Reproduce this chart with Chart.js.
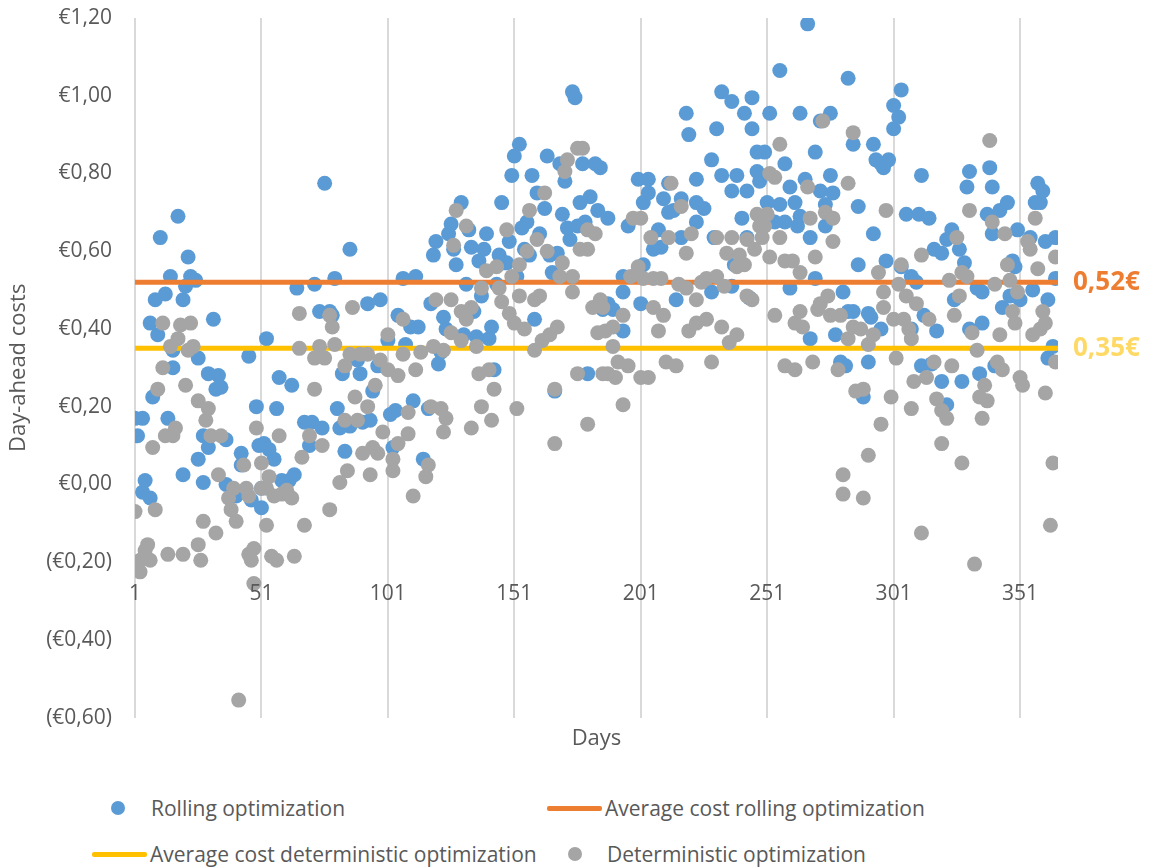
<!DOCTYPE html>
<html>
<head>
<meta charset="utf-8">
<title>Day-ahead costs</title>
<script src="https://cdn.jsdelivr.net/npm/chart.js@4.4.1/dist/chart.umd.min.js"></script>
<style>
  body { margin: 0; background: #fff; font-family: "Open Sans", sans-serif; }
  #wrap { position: relative; width: 1152px; height: 868px; }
  #costChart { position: absolute; left: 0; top: 0; }
  .legend-item { position: absolute; display: flex; align-items: center; height: 28px;
                 font-size: 21px; color: #595959; white-space: nowrap; }
  .dot { display: inline-block; width: 14px; height: 14px; border-radius: 50%; }
  .bar { display: inline-block; width: 55px; height: 5px; border-radius: 2px; }
</style>
</head>
<body>
<div id="wrap">
  <canvas id="costChart" width="1152" height="762"></canvas>
  <div class="legend-item" style="left:111px; top:794px"><span class="dot" style="background:#5B9BD5"></span><span style="margin-left:26px">Rolling optimization</span></div>
  <div class="legend-item" style="left:547px; top:794px"><span class="bar" style="background:#ED7D31"></span><span style="margin-left:3px">Average cost rolling optimization</span></div>
  <div class="legend-item" style="left:92px; top:840px"><span class="bar" style="background:#FFC000"></span><span style="margin-left:3px">Average cost deterministic optimization</span></div>
  <div class="legend-item" style="left:568px; top:840px"><span class="dot" style="background:#A5A5A5"></span><span style="margin-left:25px">Deterministic optimization</span></div>
</div>
<script>
// daily day-ahead cost, rolling optimization
const rollingDays = [
  1, 2, 4, 4, 5, 7, 7, 8, 9, 10, 11, 13, 14, 15, 16, 16, 18, 20, 20, 21,
  22, 23, 25, 26, 26, 28, 28, 30, 30, 32, 33, 34, 35, 37, 37, 41, 43, 43, 46, 47,
  49, 50, 51, 51, 52, 53, 54, 56, 57, 58, 59, 62, 63, 64, 65, 68, 70, 71, 72, 74,
  75, 76, 78, 79, 80, 81, 82, 83, 84, 86, 86, 89, 90, 91, 93, 94, 95, 97, 98, 101,
  102, 103, 104, 105, 107, 108, 110, 111, 112, 113, 115, 117, 118, 119, 120, 121, 122, 123, 124, 125,
  126, 127, 128, 130, 131, 132, 133, 134, 135, 136, 137, 138, 139, 140, 141, 142, 143, 144, 145, 146,
  147, 148, 149, 150, 151, 152, 153, 154, 155, 156, 157, 158, 159, 160, 161, 163, 164, 165, 166, 167,
  168, 169, 170, 171, 172, 173, 174, 175, 176, 177, 178, 179, 180, 181, 183, 184, 185, 186, 188, 188,
  190, 194, 194, 194, 196, 200, 201, 202, 202, 204, 204, 206, 208, 209, 210, 212, 212, 214, 215, 217,
  217, 219, 220, 223, 223, 223, 226, 229, 229, 230, 231, 233, 233, 237, 237, 237, 238, 239, 241, 242,
  243, 243, 244, 245, 245, 247, 247, 248, 250, 251, 252, 254, 256, 256, 258, 258, 260, 260, 262, 263,
  264, 264, 266, 267, 268, 268, 270, 270, 272, 272, 274, 274, 276, 276, 277, 278, 280, 281, 282, 283,
  283, 285, 285, 287, 287, 289, 291, 291, 292, 293, 293, 294, 296, 296, 297, 298, 299, 301, 301, 303,
  304, 304, 306, 308, 308, 310, 311, 312, 312, 313, 315, 316, 317, 318, 320, 320, 322, 322, 324, 325,
  327, 328, 329, 330, 331, 331, 334, 335, 336, 336, 338, 339, 340, 340, 341, 343, 344, 346, 347, 348,
  349, 350, 351, 355, 356, 357, 358, 359, 360, 361, 362, 362, 364, 365, 365
];
const rollingCosts = [
  0.17, 0.125, 0.17, -0.02, 0.01, -0.035, 0.415, 0.225, 0.475, 0.385, 0.635, 0.49, 0.17, 0.535, 0.345, 0.30, 0.69, 0.025, 0.475, 0.51,
  0.585, 0.535, 0.525, 0.325, 0.065, 0.125, 0.005, 0.285, 0.095, 0.425, 0.245, 0.28, 0.25, 0.115, 0.0, -0.03, 0.08, 0.05, 0.33, -0.04,
  0.20, 0.10, -0.01, -0.06, 0.105, 0.375, 0.09, 0.065, 0.195, 0.275, 0.01, 0.01, 0.255, 0.025, 0.505, 0.16, 0.10, 0.16, 0.515, 0.445,
  0.145, 0.775, 0.445, 0.435, 0.53, 0.195, 0.145, 0.285, 0.085, 0.15, 0.605, 0.32, 0.285, 0.16, 0.465, 0.165, 0.24, 0.305, 0.475, 0.37,
  0.18, 0.095, 0.19, 0.435, 0.53, 0.36, 0.405, 0.215, 0.535, 0.405, 0.065, 0.195, 0.465, 0.59, 0.625, 0.31, 0.34, 0.43, 0.40, 0.645,
  0.67, 0.605, 0.565, 0.725, 0.385, 0.515, 0.655, 0.61, 0.445, 0.38, 0.575, 0.485, 0.605, 0.645, 0.375, 0.405, 0.295, 0.515, 0.59, 0.725,
  0.57, 0.57, 0.625, 0.795, 0.845, 0.535, 0.875, 0.66, 0.605, 0.675, 0.59, 0.795, 0.425, 0.75, 0.645, 0.71, 0.845, 0.59, 0.545, 0.24,
  0.595, 0.825, 0.695, 0.78, 0.66, 0.63, 1.01, 0.995, 0.665, 0.725, 0.825, 0.675, 0.285, 0.74, 0.825, 0.705, 0.815, 0.45, 0.685, 0.465,
  0.45, 0.535, 0.495, 0.395, 0.665, 0.785, 0.465, 0.565, 0.725, 0.75, 0.785, 0.605, 0.655, 0.61, 0.735, 0.775, 0.70, 0.705, 0.475, 0.735,
  0.635, 0.955, 0.90, 0.675, 0.785, 0.725, 0.71, 0.835, 0.495, 0.635, 0.915, 1.01, 0.795, 0.985, 0.755, 0.51, 0.565, 0.795, 0.685, 0.955,
  0.755, 0.635, 0.48, 0.915, 0.995, 0.855, 0.805, 0.78, 0.855, 0.725, 0.955, 0.675, 0.72, 1.065, 0.675, 0.825, 0.505, 0.765, 0.725, 0.665,
  0.955, 0.69, 0.785, 1.185, 0.635, 0.375, 0.855, 0.53, 0.935, 0.755, 0.72, 0.665, 0.955, 0.795, 0.75, 0.385, 0.315, 0.495, 0.305, 0.445,
  1.045, 0.875, 0.445, 0.565, 0.715, 0.225, 0.44, 0.315, 0.43, 0.645, 0.875, 0.835, 0.825, 0.40, 0.815, 0.575, 0.835, 0.915, 0.975, 0.945,
  1.015, 0.56, 0.695, 0.535, 0.40, 0.52, 0.695, 0.795, 0.305, 0.435, 0.685, 0.31, 0.605, 0.395, 0.595, 0.265, 0.63, 0.205, 0.655, 0.475,
  0.605, 0.265, 0.57, 0.765, 0.805, 0.40, 0.505, 0.285, 0.415, 0.495, 0.695, 0.815, 0.765, 0.645, 0.305, 0.705, 0.455, 0.725, 0.485, 0.575,
  0.56, 0.655, 0.475, 0.635, 0.50, 0.725, 0.775, 0.725, 0.755, 0.625, 0.475, 0.325, 0.355, 0.635, 0.53
];

// daily day-ahead cost, deterministic optimization
const deterministicDays = [
  1, 3, 3, 5, 6, 7, 8, 9, 10, 12, 12, 13, 14, 15, 16, 17, 18, 19, 20, 21,
  22, 23, 24, 26, 26, 27, 28, 29, 30, 31, 33, 34, 35, 38, 39, 40, 41, 42, 44, 45,
  46, 46, 47, 48, 48, 49, 51, 51, 53, 53, 54, 55, 56, 57, 58, 59, 61, 63, 64, 66,
  66, 67, 68, 70, 72, 72, 74, 75, 76, 78, 78, 79, 80, 82, 84, 84, 85, 86, 87, 88,
  89, 90, 91, 93, 93, 94, 95, 96, 97, 98, 99, 101, 101, 103, 103, 105, 105, 107, 107, 109,
  109, 111, 112, 114, 116, 117, 118, 119, 120, 122, 123, 123, 124, 126, 126, 127, 128, 130, 130, 132,
  132, 134, 134, 136, 137, 138, 138, 140, 141, 142, 143, 144, 145, 146, 148, 149, 150, 151, 152, 153,
  153, 155, 156, 157, 159, 159, 160, 161, 162, 163, 164, 165, 167, 167, 168, 169, 170, 171, 172, 174,
  174, 176, 176, 177, 178, 180, 180, 180, 182, 183, 184, 185, 186, 186, 187, 188, 190, 190, 191, 192,
  194, 194, 196, 197, 198, 200, 201, 201, 202, 204, 205, 206, 206, 208, 209, 210, 211, 212, 213, 215,
  216, 217, 219, 219, 220, 221, 223, 223, 225, 227, 227, 229, 231, 231, 233, 234, 235, 236, 237, 239,
  239, 240, 242, 243, 243, 245, 246, 247, 248, 249, 250, 251, 252, 252, 254, 254, 256, 256, 258, 258,
  261, 262, 262, 264, 264, 265, 267, 268, 269, 270, 271, 272, 273, 274, 275, 276, 277, 277, 279, 280,
  281, 281, 283, 283, 285, 285, 286, 288, 289, 289, 291, 291, 293, 295, 296, 297, 297, 298, 300, 301,
  302, 303, 304, 305, 306, 307, 308, 308, 309, 310, 312, 312, 314, 315, 317, 318, 320, 320, 322, 323,
  324, 325, 326, 327, 328, 328, 330, 331, 332, 333, 334, 335, 336, 337, 338, 339, 340, 341, 342, 343,
  344, 345, 346, 347, 348, 349, 350, 351, 352, 354, 355, 356, 357, 358, 359, 360, 361, 361, 363, 364,
  365, 365
];
const deterministicCosts = [
  -0.07, -0.195, -0.225, -0.17, -0.155, -0.195, 0.095, -0.065, 0.245, 0.30, 0.415, 0.125, -0.18, 0.355, 0.125, 0.145, 0.375, 0.41, -0.18, 0.255,
  0.345, 0.415, 0.355, -0.155, 0.215, -0.195, -0.095, 0.165, 0.195, 0.125, -0.125, 0.025, 0.125, -0.035, -0.065, -0.01, -0.095, -0.555, 0.05, -0.01,
  -0.03, -0.18, -0.195, -0.255, -0.165, 0.145, 0.055, -0.01, -0.105, -0.01, 0.02, -0.185, -0.03, -0.195, 0.125, -0.025, -0.015, -0.035, -0.185, 0.44,
  0.35, 0.07, -0.105, 0.125, 0.325, 0.245, 0.355, 0.10, 0.325, 0.435, -0.065, 0.405, 0.36, 0.005, 0.305, 0.165, 0.035, 0.335, 0.455, 0.225,
  0.165, 0.335, 0.08, 0.335, 0.20, 0.025, 0.095, 0.255, 0.08, 0.32, 0.135, 0.385, 0.295, 0.035, 0.065, 0.28, 0.105, 0.425, 0.335, 0.185,
  0.13, -0.03, 0.295, 0.34, 0.02, 0.05, 0.20, 0.355, 0.475, 0.195, 0.345, 0.135, 0.17, 0.475, 0.39, 0.615, 0.705, 0.445, 0.37, 0.665,
  0.425, 0.455, 0.145, 0.355, 0.285, 0.505, 0.20, 0.55, 0.295, 0.165, 0.245, 0.56, 0.505, 0.47, 0.655, 0.44, 0.535, 0.415, 0.195, 0.565,
  0.485, 0.40, 0.60, 0.705, 0.475, 0.345, 0.63, 0.485, 0.37, 0.75, 0.60, 0.385, 0.245, 0.105, 0.405, 0.535, 0.57, 0.805, 0.835, 0.535,
  0.495, 0.865, 0.285, 0.605, 0.865, 0.605, 0.655, 0.155, 0.455, 0.645, 0.39, 0.475, 0.285, 0.455, 0.395, 0.285, 0.405, 0.355, 0.275, 0.315,
  0.435, 0.205, 0.305, 0.535, 0.685, 0.56, 0.685, 0.275, 0.53, 0.275, 0.635, 0.53, 0.455, 0.395, 0.53, 0.435, 0.315, 0.635, 0.775, 0.305,
  0.515, 0.715, 0.505, 0.595, 0.395, 0.645, 0.475, 0.415, 0.52, 0.53, 0.425, 0.315, 0.535, 0.635, 0.405, 0.51, 0.595, 0.365, 0.635, 0.56,
  0.385, 0.59, 0.565, 0.63, 0.485, 0.475, 0.605, 0.695, 0.665, 0.635, 0.665, 0.695, 0.80, 0.585, 0.79, 0.435, 0.875, 0.635, 0.575, 0.305,
  0.575, 0.415, 0.295, 0.545, 0.445, 0.405, 0.765, 0.685, 0.315, 0.585, 0.45, 0.465, 0.935, 0.70, 0.485, 0.435, 0.685, 0.625, 0.295, 0.435,
  0.025, -0.025, 0.775, 0.375, 0.905, 0.405, 0.24, 0.40, 0.245, -0.035, 0.36, 0.075, 0.385, 0.545, 0.155, 0.495, 0.455, 0.705, 0.225, 0.425,
  0.325, 0.515, 0.565, 0.425, 0.485, 0.40, 0.375, 0.195, 0.265, 0.465, 0.59, -0.125, 0.275, 0.425, 0.315, 0.22, 0.19, 0.105, 0.17, 0.525,
  0.305, 0.435, 0.635, 0.485, 0.545, 0.055, 0.535, 0.705, 0.39, -0.205, 0.345, 0.225, 0.17, 0.255, 0.215, 0.885, 0.675, 0.515, 0.315, 0.385,
  0.295, 0.645, 0.565, 0.525, 0.445, 0.415, 0.495, 0.275, 0.255, 0.625, 0.605, 0.385, 0.685, 0.555, 0.40, 0.445, 0.415, 0.235, -0.105, 0.055,
  0.315, 0.585
];

// yearly averages shown as horizontal lines
const avgRolling = 0.52;
const avgDeterministic = 0.35;

const dayTicks = [1, 51, 101, 151, 201, 251, 301, 351];
const firstDay = 1;
const lastDay = 366;
const costMin = -0.6;
const costMax = 1.2;
const costStep = 0.2;
const axisCross = -0.2; // day labels sit under this level

const textGrey = "#595959";

function euro(v) {
  const s = Math.abs(v).toFixed(2).replace(".", ",");
  return v < -1e-9 ? "(€" + s + ")" : "€" + s;
}

function toPoints(days, costs) {
  return days.map((d, i) => ({ x: d, y: costs[i] }));
}

// day numbers drawn inside the plot, under the -0,20 level
const dayLabels = {
  id: "dayLabels",
  afterDraw(chart) {
    const ctx = chart.ctx;
    const xs = chart.scales.x;
    const ys = chart.scales.y;
    ctx.save();
    ctx.font = '21px "Open Sans"';
    ctx.fillStyle = textGrey;
    ctx.textAlign = "center";
    ctx.textBaseline = "middle";
    const y = ys.getPixelForValue(axisCross) + 32;
    dayTicks.forEach((d) => ctx.fillText(String(d), xs.getPixelForValue(d), y));
    ctx.restore();
  },
};

// value tags at the right end of the average lines
const avgTags = {
  id: "avgTags",
  afterDraw(chart) {
    const ctx = chart.ctx;
    const ys = chart.scales.y;
    const x = chart.chartArea.right + 15;
    ctx.save();
    ctx.font = 'bold 26px "Open Sans"';
    ctx.textAlign = "left";
    ctx.textBaseline = "middle";
    ctx.fillStyle = "#ED7D31";
    ctx.fillText(avgRolling.toFixed(2).replace(".", ",") + "€", x, ys.getPixelForValue(avgRolling));
    ctx.fillStyle = "#FFD966";
    ctx.fillText(avgDeterministic.toFixed(2).replace(".", ",") + "€", x, ys.getPixelForValue(avgDeterministic));
    ctx.restore();
  },
};

document.addEventListener("DOMContentLoaded", function () {
  const ctx = document.getElementById("costChart").getContext("2d");
  new Chart(ctx, {
    type: "scatter",
    data: {
      datasets: [
        {
          label: "Rolling optimization",
          data: toPoints(rollingDays, rollingCosts),
          backgroundColor: "#5B9BD5",
          borderWidth: 0,
          pointRadius: 7.5,
          order: 4,
        },
        {
          label: "Average cost rolling optimization",
          data: [{ x: firstDay, y: avgRolling }, { x: lastDay, y: avgRolling }],
          showLine: true,
          borderColor: "#ED7D31",
          borderWidth: 5,
          borderCapStyle: "round",
          pointRadius: 0,
          order: 3,
        },
        {
          label: "Average cost deterministic optimization",
          data: [{ x: firstDay, y: avgDeterministic }, { x: lastDay, y: avgDeterministic }],
          showLine: true,
          borderColor: "#FFC000",
          borderWidth: 5,
          borderCapStyle: "round",
          pointRadius: 0,
          order: 2,
        },
        {
          label: "Deterministic optimization",
          data: toPoints(deterministicDays, deterministicCosts),
          backgroundColor: "#A5A5A5",
          borderWidth: 0,
          pointRadius: 7.5,
          order: 1,
        },
      ],
    },
    options: {
      responsive: false,
      animation: false,
      layout: { padding: { top: 18, right: 94, bottom: 10, left: 0 } },
      scales: {
        x: {
          type: "linear",
          min: firstDay,
          max: lastDay,
          afterBuildTicks(scale) {
            scale.ticks = dayTicks.map((v) => ({ value: v }));
          },
          ticks: { display: false },
          grid: { color: "#D9D9D9", lineWidth: 2, drawTicks: false },
          border: { display: false },
          title: {
            display: true,
            text: "Days",
            color: textGrey,
            font: { family: "Open Sans", size: 22 },
            padding: { top: 8, bottom: 0 },
          },
        },
        y: {
          min: costMin,
          max: costMax,
          afterFit(scale) {
            scale.width = 135;
            scale.paddingTop = 0;
          },
          ticks: {
            stepSize: costStep,
            padding: 15,
            color: textGrey,
            font: { family: "Open Sans", size: 21 },
            callback: (v) => euro(v),
          },
          grid: { display: false },
          border: { display: false },
          title: {
            display: true,
            text: "Day-ahead costs",
            color: textGrey,
            font: { family: "Open Sans", size: 22 },
            padding: { top: 6, bottom: 0 },
          },
        },
      },
      plugins: {
        legend: { display: false },
        tooltip: { enabled: false },
      },
    },
    plugins: [dayLabels, avgTags],
  });
});
</script>
</body>
</html>
